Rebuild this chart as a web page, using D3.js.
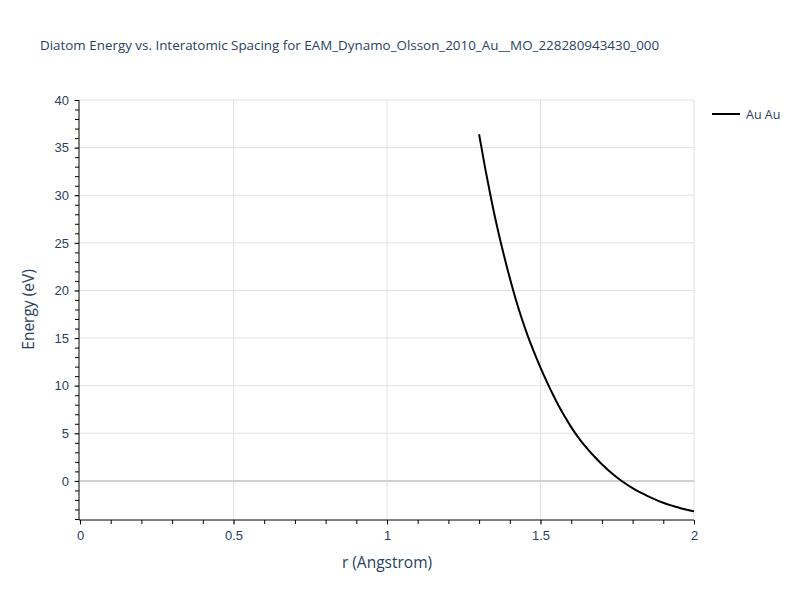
<!DOCTYPE html>
<html lang="en">
<head>
  <meta charset="UTF-8">
  <title>Diatom Energy vs. Interatomic Spacing</title>
  <script src="https://d3js.org/d3.v7.min.js"></script>
  <style>
    body { margin: 0; background: #fff; }
    svg { font-family: "Open Sans", "DejaVu Sans", sans-serif; }
  </style>
</head>
<body>
  <div id="chart"></div>

  <script>
    // data
    const seriesName = "Au Au";
    const rValues = [1.30, 1.32, 1.34, 1.36, 1.38, 1.40, 1.42, 1.44, 1.46, 1.48,
                     1.50, 1.52, 1.54, 1.56, 1.58, 1.60, 1.62, 1.64, 1.66, 1.68,
                     1.70, 1.72, 1.74, 1.76, 1.78, 1.80, 1.82, 1.84, 1.86, 1.88,
                     1.90, 1.92, 1.94, 1.96, 1.98, 2.00];
    const energyValues = [36.4, 32.8, 29.5, 26.5, 23.8, 21.3, 19.0, 16.95, 15.1, 13.45,
                          11.9, 10.45, 9.1, 7.85, 6.7, 5.65, 4.7, 3.85, 3.1, 2.4,
                          1.75, 1.15, 0.6, 0.1, -0.35, -0.75, -1.12, -1.45, -1.76, -2.04,
                          -2.3, -2.52, -2.72, -2.89, -3.05, -3.2];
    const xTicks = [0, 0.5, 1, 1.5, 2];
    const yTicks = [0, 5, 10, 15, 20, 25, 30, 35, 40];

    const width = 800, height = 600;
    const plotL = 80, plotR = 694, plotT = 100, plotB = 519;
    const textColor = "#2a3f5f";

    const svg = d3.select("#chart").append("svg")
      .attr("width", width)
      .attr("height", height);

    const x = d3.scaleLinear().domain([0, 2]).range([plotL, plotR]);
    const y = d3.scaleLinear().domain([-4, 40]).range([plotB, plotT]);

    // grid
    svg.append("g").selectAll("line").data(xTicks.slice(1))
      .enter().append("line")
      .attr("x1", d => x(d)).attr("x2", d => x(d))
      .attr("y1", plotT).attr("y2", plotB)
      .attr("stroke", "#e1e1e1").attr("stroke-width", 1);

    svg.append("g").selectAll("line").data(yTicks)
      .enter().append("line")
      .attr("x1", plotL).attr("x2", plotR)
      .attr("y1", d => y(d)).attr("y2", d => y(d))
      .attr("stroke", d => d === 0 ? "#d0d0d0" : "#e1e1e1")
      .attr("stroke-width", d => d === 0 ? 2 : 1);

    // minor ticks
    const xMinor = d3.range(0, 2.0001, 0.1);
    const yMinor = d3.range(-4, 40.0001, 1);

    const xAxisMinor = d3.axisBottom(x).tickValues(xMinor).tickSize(4).tickFormat("");
    const yAxisMinor = d3.axisLeft(y).tickValues(yMinor).tickSize(4).tickFormat("");

    const xAxis = d3.axisBottom(x).tickValues(xTicks).tickSize(5).tickPadding(6)
      .tickFormat(d3.format("~g"));
    const yAxis = d3.axisLeft(y).tickValues(yTicks).tickSize(5).tickPadding(5);

    const gx = svg.append("g").attr("transform", `translate(0, ${plotB + 1})`);
    gx.call(xAxis);
    gx.select(".domain").remove();
    gx.selectAll(".tick line").attr("stroke", "#999");
    gx.selectAll(".tick text").attr("fill", textColor).style("font-size", "13px");
    const gxm = svg.append("g").attr("transform", `translate(0, ${plotB + 1})`).call(xAxisMinor);
    gxm.select(".domain").remove();
    gxm.selectAll(".tick line").attr("stroke", "#000");

    const gy = svg.append("g").attr("transform", `translate(${plotL - 1}, 0)`);
    gy.call(yAxis);
    gy.select(".domain").remove();
    gy.selectAll(".tick line").attr("stroke", "#999");
    gy.selectAll(".tick text").attr("fill", textColor).style("font-size", "13px");
    const gym = svg.append("g").attr("transform", `translate(${plotL - 1}, 0)`).call(yAxisMinor);
    gym.select(".domain").remove();
    gym.selectAll(".tick line").attr("stroke", "#000");

    // axis lines
    svg.append("line")
      .attr("x1", plotL - 1).attr("x2", plotR)
      .attr("y1", plotB + 1).attr("y2", plotB + 1)
      .attr("stroke", "#000");
    svg.append("line")
      .attr("x1", plotL - 1).attr("x2", plotL - 1)
      .attr("y1", plotT).attr("y2", plotB + 1)
      .attr("stroke", "#000");

    // curve
    const pts = rValues.map((r, i) => ({ r: r, e: energyValues[i] }));
    const line = d3.line().curve(d3.curveMonotoneX).x(d => x(d.r)).y(d => y(d.e));
    svg.append("path")
      .datum(pts)
      .attr("fill", "none")
      .attr("stroke", "#000")
      .attr("stroke-width", 2)
      .attr("d", line);

    // title and axis titles
    svg.append("text")
      .attr("x", 40).attr("y", 50)
      .attr("fill", textColor)
      .style("font-size", "13.4px")
      .text("Diatom Energy vs. Interatomic Spacing for EAM_Dynamo_Olsson_2010_Au__MO_228280943430_000");

    svg.append("text")
      .attr("x", (plotL + plotR) / 2).attr("y", 568)
      .attr("text-anchor", "middle")
      .attr("fill", textColor)
      .style("font-size", "15.5px")
      .text("r (Angstrom)");

    svg.append("text")
      .attr("transform", `translate(34, ${(plotT + plotB) / 2}) rotate(-90)`)
      .attr("text-anchor", "middle")
      .attr("fill", textColor)
      .style("font-size", "15.5px")
      .text("Energy (eV)");

    // legend
    const lg = svg.append("g").attr("transform", "translate(712, 114)");
    lg.append("line")
      .attr("x1", 0).attr("x2", 28)
      .attr("stroke", "#000").attr("stroke-width", 2);
    lg.append("text")
      .attr("x", 34).attr("y", 4.5)
      .attr("fill", textColor)
      .style("font-size", "12.5px")
      .text(seriesName);
  </script>
</body>
</html>
